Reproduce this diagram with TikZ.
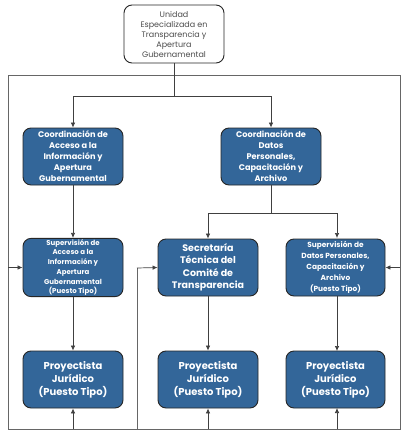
\documentclass[tikz,border=0pt]{standalone}
\usepackage{fontspec}
\setmainfont{Poppins}
\usetikzlibrary{arrows.meta}
\definecolor{boxblue}{HTML}{336699}
\definecolor{lineg}{HTML}{404040}
\tikzset{
  bluebox/.style={draw=black!85, line width=0.9pt, fill=boxblue, rounded corners=8pt,
    minimum width=100pt, minimum height=57pt, align=center, text=white, inner sep=1pt, font=\bfseries},
  topbox/.style={draw=black!85, line width=0.9pt, fill=white, rounded corners=8pt,
    minimum width=100pt, minimum height=58pt, align=center, text=black!70, inner sep=1pt,
    font=\fontsize{8}{10}\selectfont},
  conn/.style={draw=lineg, line width=0.7pt, -{Latex[length=5pt,width=4.5pt]}},
  frame/.style={draw=black!60, line width=0.8pt}
}
\begin{document}
\begin{tikzpicture}[x=1pt,y=-1pt]
\useasboundingbox (0,0) rectangle (406,434);
% nodes
\node[topbox] (top) at (174,34) {Unidad\\Especializada en\\Transparencia y\\Apertura\\Gubernamental};
\node[bluebox, font=\bfseries\fontsize{8.2}{11}\selectfont] (cl) at (73,156.5) {Coordinación de\\Acceso a la\\Información y\\Apertura\\Gubernamental};
\node[bluebox, font=\bfseries\fontsize{8.2}{11}\selectfont] (cr) at (271,156.5) {Coordinación de\\Datos\\Personales,\\Capacitación y\\Archivo};
\node[bluebox, font=\bfseries\fontsize{7}{9.7}\selectfont] (sl) at (73,267.5) {Supervisión de\\Acceso a la\\Información y\\Apertura\\Gubernamental\\(Puesto Tipo)};
\node[bluebox, font=\bfseries\fontsize{9.5}{12.5}\selectfont] (sm) at (208,267.5) {Secretaría\\Técnica del\\Comité de\\Transparencia};
\node[bluebox, minimum width=99pt, font=\bfseries\fontsize{7.4}{11}\selectfont] (sr) at (335.5,267.5) {Supervisión de\\Datos Personales,\\Capacitación y\\Archivo\\(Puesto Tipo)};
\node[bluebox, font=\bfseries\fontsize{10}{13}\selectfont] (pl) at (73,379.5) {Proyectista\\Jurídico\\(Puesto Tipo)};
\node[bluebox, font=\bfseries\fontsize{10}{13}\selectfont] (pm) at (208,379.5) {Proyectista\\Jurídico\\(Puesto Tipo)};
\node[bluebox, minimum width=99pt, font=\bfseries\fontsize{10}{13}\selectfont] (pr) at (335.5,379.5) {Proyectista\\Jurídico\\(Puesto Tipo)};
% frame corners
\coordinate (ftl) at (8,75);
\coordinate (ftr) at (400,75);
\coordinate (fbl) at (8,429);
\coordinate (fbr) at (400,429);
\coordinate (fmid) at (137,429);
\coordinate (fmidup) at (137,268);
\draw[frame] (ftl) -- (ftr) -- (fbr) -- (fbl) -- cycle;
\draw[frame] (fmid) -- (fmidup);
% connectors
\draw[conn] (top.south) -- (174,96) -| (cl.north);
\draw[conn] (top.south) -- (174,96) -| (cr.north);
\draw[conn] (cl.south) -- (sl.north);
\draw[conn] (cr.south) -- (271,213) -| (sm.north);
\draw[conn] (cr.south) -- (271,213) -| (337,238);
\draw[conn] (sl.south) -- (pl.north);
\draw[conn] (sm.south) -- (pm.north);
\draw[conn] (337,296) -- (337,351);
\draw[conn] (ftl |- sl.west) -- (sl.west);
\draw[conn] (ftr |- sr.east) -- (sr.east);
\draw[conn] (fmidup) -- (sm.west);
\draw[conn] (fbl -| pl.south) -- (pl.south);
\draw[conn] (fbl -| pm.south) -- (pm.south);
\draw[conn] (337,429) -- (337,408);
\end{tikzpicture}
\end{document}
